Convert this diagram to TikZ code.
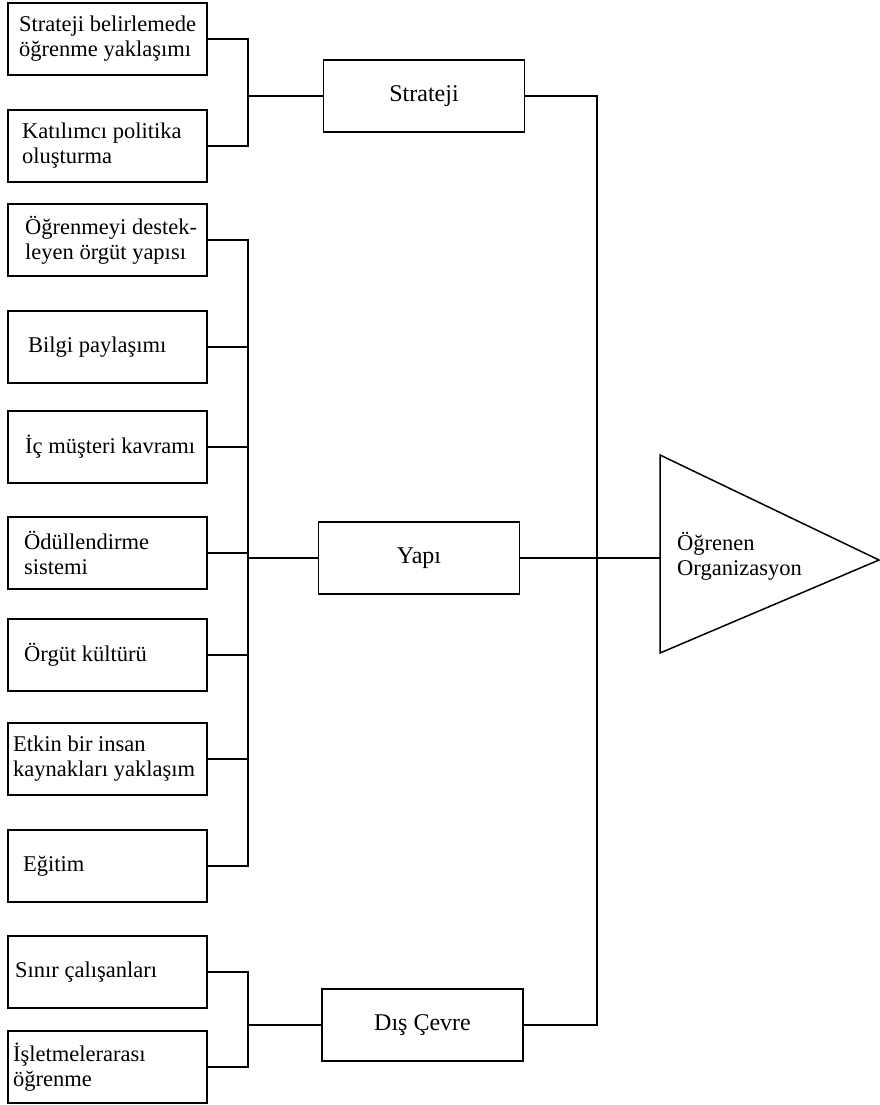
\documentclass[tikz,border=0pt]{standalone}
\usepackage{fontspec}
\setmainfont{Liberation Serif}
\begin{document}
\begin{tikzpicture}[x=1pt,y=-1pt,
  every node/.style={font=\fontsize{22.5}{25}\selectfont},
  leftbox/.style={draw, line width=1.4pt, minimum width=199pt, minimum height=72pt, inner sep=0pt},
  midbox/.style={draw, line width=1.4pt, minimum width=201pt, minimum height=72pt, inner sep=0pt,
                 font=\fontsize{24}{26}\selectfont},
  lbl/.style={anchor=west, align=left, inner sep=0pt},
  wire/.style={line width=1.5pt}]
\useasboundingbox (0,0) rectangle (880,1105);

% factor boxes on the left
\node[leftbox] (b1)  at (107.5,39)   {};
\node[leftbox] (b2)  at (107.5,146)  {};
\node[leftbox] (b3)  at (107.5,240)  {};
\node[leftbox] (b4)  at (107.5,347)  {};
\node[leftbox] (b5)  at (107.5,447)  {};
\node[leftbox] (b6)  at (107.5,553)  {};
\node[leftbox] (b7)  at (107.5,655)  {};
\node[leftbox] (b8)  at (107.5,759)  {};
\node[leftbox] (b9)  at (107.5,866)  {};
\node[leftbox] (b10) at (107.5,972)  {};
\node[leftbox] (b11) at (107.5,1067) {};

\node[lbl] (t1)  at (19,39)   {Strateji belirlemede\\öğrenme yaklaşımı};
\node[lbl] (t2)  at (22,146)  {Katılımcı politika\\oluşturma};
\node[lbl] (t3)  at (25,240)  {Öğrenmeyi destek-\\leyen örgüt yapısı};
\node[lbl] (t4)  at (28,347)  {Bilgi paylaşımı};
\node[lbl] (t5)  at (25,447)  {İç müşteri kavramı};
\node[lbl] (t6)  at (24,553)  {Ödüllendirme\\sistemi};
\node[lbl] (t7)  at (24,655)  {Örgüt kültürü};
\node[lbl] (t8)  at (13,759)  {Etkin bir insan\\kaynakları yaklaşım};
\node[lbl] (t9)  at (23,866)  {Eğitim};
\node[lbl] (t10) at (15,972)  {Sınır çalışanları};
\node[lbl] (t11) at (13,1067) {İşletmelerarası\\öğrenme};

% grouping boxes in the middle
\node[midbox] (S) at (424,96)   {Strateji};
\node[midbox] (Y) at (419,558)  {Yapı};
\node[midbox] (D) at (422.5,1025) {Dış Çevre};

% collecting buses
\coordinate (busS) at (248,96);
\coordinate (busY) at (248,558);
\coordinate (busD) at (248,1025);
\coordinate (busR) at (597,558);

% strategy group
\draw[wire] (b1.east) -| (busS) |- (b2.east);
\draw[wire] (busS) -- (S.west);
% structure group
\draw[wire] (b3.east) -| (busY) |- (b9.east);
\foreach \b in {b4,b5,b6,b7,b8} \draw[wire] (\b.east) -- (\b.east -| busY);
\draw[wire] (busY) -- (Y.west);
% environment group
\draw[wire] (b10.east) -| (busD) |- (b11.east);
\draw[wire] (busD) -- (D.west);

% right-hand bus joining the three groups
\draw[wire] (S.east) -| (busR) |- (D.east);

% learning organisation triangle
\coordinate (tA) at (660,455);
\coordinate (tB) at (660,653);
\coordinate (tC) at (879,560);
\coordinate (tIn) at (660,558);
\draw[line width=1.5pt, line join=miter] (tA) -- (tC) -- (tB) -- cycle;
\draw[wire] (Y.east) -- (tIn);
\node[lbl] (org) at (677,556) {Öğrenen\\Organizasyon};
\end{tikzpicture}
\end{document}
